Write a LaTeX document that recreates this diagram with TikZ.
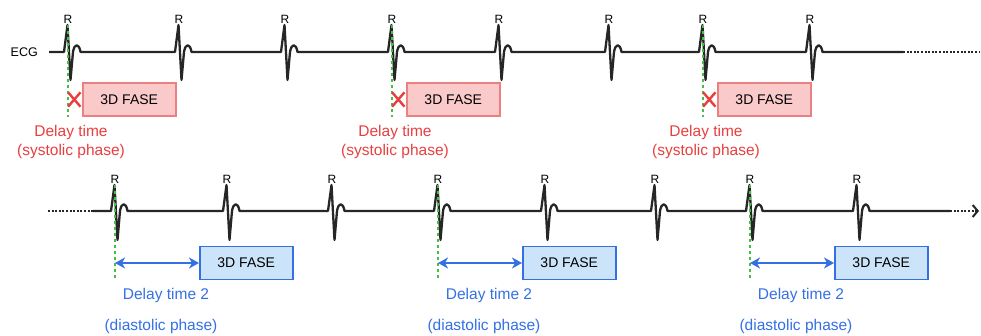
\documentclass[tikz,border=0pt]{standalone}
\usepackage{fontspec}
\setmainfont{Liberation Sans}
\usetikzlibrary{arrows.meta,calc,positioning,shapes.misc}
\definecolor{sysred}{RGB}{232,62,62}
\definecolor{sysfill}{RGB}{250,202,202}
\definecolor{sysdraw}{RGB}{236,128,128}
\definecolor{diablue}{RGB}{52,112,228}
\definecolor{diafill}{RGB}{204,228,250}
\definecolor{gating}{RGB}{70,190,70}
\tikzset{
	ecg/.style={line width=2.3pt,black!85,line join=round},
	ecg dots/.style={line width=2.3pt,black!85,dash pattern=on 2pt off 1.6pt},
	rlab/.style={font=\fontsize{12}{12}\selectfont,inner sep=0pt,anchor=south},
	trig/.style={gating,line width=1.6pt,dash pattern=on 3.5pt off 2.5pt},
	fase/.style={draw,line width=1.5pt,minimum width=93pt,minimum height=33pt,
		anchor=west,inner sep=0pt,font=\fontsize{14}{14}\selectfont},
	sysbox/.style={fase,draw=sysdraw,fill=sysfill},
	diabox/.style={fase,draw=diablue,fill=diafill},
	note/.style={font=\fontsize{15.5}{19}\selectfont,align=center,inner sep=0pt},
	xmark/.style={cross out,draw=sysred,line width=2.4pt,minimum width=10pt,
		minimum height=12pt,inner sep=0pt},
	diaar/.style={diablue,line width=2.2pt,
		{Stealth[length=10pt,width=11pt,inset=3pt]}-{Stealth[length=10pt,width=11pt,inset=3pt]}}
}

\begin{document}
\begin{tikzpicture}[x=1pt,y=-1pt]
   \useasboundingbox (0,0) rectangle (981,336);
   % systolic row
   \node[font=\fontsize{12.5}{12.5}\selectfont,anchor=east,inner sep=0pt] (ecglab) at (38,52) {ECG};
   \coordinate (ecgA) at (49,52);
   \coordinate (ecgAend) at (903,52);
   \coordinate (ecgAdots) at (980,52);
   \draw[ecg] (ecgA) foreach \p in {68,179,285,392,499,609,703,810} {
      -- (\p-4,52) -- (\p-0.5,25) -- (\p+2.5,80) -- (\p+5,52)
      .. controls (\p+6.5,43) and (\p+11,43) .. (\p+12.5,52)} -- (ecgAend);
   \draw[ecg dots] (ecgAend) -- (ecgAdots);
   \foreach \p [count=\i] in {68,179,285,392,499,609,703,810}
      \node[rlab] (rA\i) at (\p,24) {R};
   \foreach \p [count=\i] in {68,392,703} {
      \coordinate (gA\i) at (\p,25);
      \coordinate (gAb\i) at (\p,117);
      \draw[trig] (gA\i) -- (gAb\i);
      \node[sysbox] (fA\i) at (\p+14,99.5) {3D FASE};
      \node[xmark] (xA\i) at ($(gA\i |- fA\i.west)!0.45!(fA\i.west)$) {};
      \node[note,text=sysred] (nA\i) at (\p+3,142) {Delay time\\(systolic phase)};
   }
   % diastolic row
   \coordinate (ecgB) at (48,211);
   \coordinate (ecgBsolid) at (93,211);
   \coordinate (ecgBend) at (950,211);
   \coordinate (ecgBarrow) at (979,211);
   \draw[ecg dots] (ecgB) -- (ecgBsolid);
   \draw[ecg] (ecgBsolid) foreach \p in {115,227,332,438,545,655,750,857} {
      -- (\p-4,211) -- (\p-0.5,185) -- (\p+2.5,240) -- (\p+5,211)
      .. controls (\p+6.5,202) and (\p+11,202) .. (\p+12.5,211)} -- (ecgBend);
   \draw[ecg dots,-{Straight Barb[length=5pt,width=12pt,line width=2pt]}] (ecgBend) -- (ecgBarrow);
   \foreach \p [count=\i] in {115,227,332,438,545,655,750,857}
      \node[rlab] (rB\i) at (\p,184) {R};
   \foreach \p [count=\i] in {115,438,750} {
      \coordinate (gB\i) at (\p,185);
      \coordinate (gBb\i) at (\p,279);
      \draw[trig] (gB\i) -- (gBb\i);
      \node[diabox] (fB\i) at (\p+84,263) {3D FASE};
      \draw[diaar] (gB\i |- fB\i.west) -- (fB\i.west);
      \node[note,text=diablue] (nB\i) at (\p+51,295) {Delay time 2};
      \node[note,text=diablue] (mB\i) at (\p+46,326) {(diastolic phase)};
   }
\end{tikzpicture}
\end{document}
